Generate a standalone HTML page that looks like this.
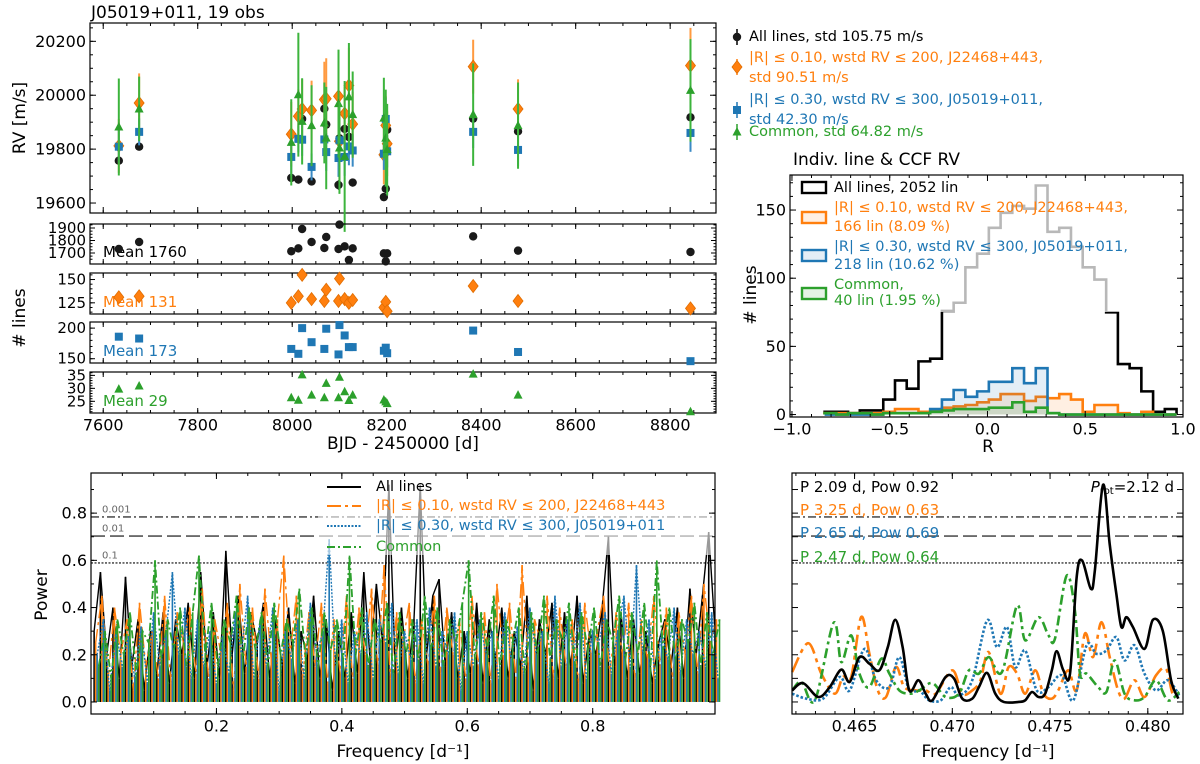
<!DOCTYPE html>
<html><head><meta charset="utf-8"><style>
html,body{margin:0;padding:0;background:#fff;}
svg{display:block;font-family:"DejaVu Sans","Liberation Sans",sans-serif;}
</style></head><body>
<svg id="chart" width="1200" height="764" viewBox="0 0 1200 764" xmlns="http://www.w3.org/2000/svg"></svg>
<script>
// ---------- data ----------
const epochs=[7633,7676,7998,8013,8021,8041,8068,8072,8098,8100,8111,8120,8128,8194,8198,8201,8383,8478,8843];
const rvAll=[19757,19809,19693,19687,19912,19680,19950,19891,19667,19840,19875,19845,19676,19622,19653,19872,19913,19866,19918];
const rvOrange=[19812,19971,19855,19922,19949,19944,19984,19987,19996,19829,19932,20036,19893,19779,19888,19820,20106,19949,20110];
const rvBlue=[19809,19864,19771,19838,19835,19734,19836,19789,19767,19833,19771,19810,19795,19783,19912,19792,19864,19797,19860];
const rvGreen=[19882,19949,19825,20002,19903,19887,19897,19841,19969,19804,19773,19994,19928,19915,19841,19798,19928,19887,20018];
const errAll=[15,12,15,15,15,15,15,15,18,15,15,15,15,15,15,15,15,15,15];
const errOrange=[100,110,120,100,110,110,140,150,130,150,100,140,120,110,110,120,100,110,140];
const errBlue=[60,50,70,50,60,50,60,70,70,60,70,70,60,60,80,60,60,60,70];
const errGreen=[180,120,160,230,160,150,150,190,200,170,280,200,160,150,180,170,190,160,190];
const nAll=[1732,1788,1714,1737,1892,1788,1740,1828,1732,1927,1753,1644,1737,1697,1633,1697,1833,1719,1708];
const nOrange=[131,132,125,132,155,129,127,139,127,151,129,125,128,120,126,116,143,127,119];
const nBlue=[186,183,166,158,200,177,166,199,157,205,188,169,169,163,168,159,196,161,146];
const nGreen=[29.7,30.9,26.4,25.4,35.2,27.4,26.4,31.9,26.4,34.3,28.7,25.3,27.4,25.5,24.8,24.1,35.5,27.4,21];
const histStart=-0.833, histWidth=0.06;
const histAll=[2,2,1,3,3,11,25,19,39,41,76,82,108,118,137,148,153,151,168,134,137,123,108,99,75,37,34,17,2,4];
const histOrange=[1,1,1,1,1,2,4,4,2,3,5,6,7,9,11,15,15,10,13,12,15,11,2,7,7,1,0,2,0,0];
const histBlue=[0,0,0,0,0,1,1,1,1,4,11,18,13,17,24,24,34,23,34,1,0,0,0,0,0,0,0,0,0,0];
const histGreen=[1,0,1,1,0,1,1,1,1,2,3,4,4,4,5,5,9,2,5,1,0,0,0,0,0,0,0,0,0,0];
const freqStart=0.005, freqStep=0.01;
const powAll=[0.30,0.55,0.20,0.40,0.10,0.53,0.15,0.35,0.05,0.30,0.12,0.38,0.08,0.35,0.20,0.42,0.10,0.55,0.15,0.38,0.10,0.64,0.20,0.45,0.12,0.38,0.25,0.42,0.10,0.35,0.15,0.40,0.08,0.30,0.18,0.45,0.10,0.35,0.05,0.30,0.10,0.38,0.12,0.55,0.18,0.50,0.25,0.92,0.15,0.40,0.10,0.35,0.92,0.20,0.45,0.52,0.15,0.38,0.10,0.30,0.12,0.42,0.08,0.35,0.18,0.40,0.10,0.30,0.15,0.45,0.05,0.35,0.20,0.42,0.10,0.38,0.15,0.45,0.08,0.30,0.20,0.40,0.70,0.15,0.38,0.10,0.35,0.12,0.30,0.08,0.25,0.35,0.15,0.40,0.10,0.48,0.20,0.45,0.72,0.30];
const powOrange=[0.25,0.45,0.10,0.40,0.20,0.35,0.05,0.42,0.15,0.30,0.10,0.45,0.08,0.38,0.25,0.40,0.12,0.48,0.10,0.35,0.20,0.42,0.05,0.50,0.15,0.40,0.10,0.48,0.18,0.35,0.62,0.20,0.45,0.10,0.38,0.15,0.42,0.08,0.35,0.12,0.45,0.10,0.40,0.20,0.48,0.15,0.58,0.10,0.38,0.25,0.42,0.08,0.35,0.15,0.45,0.12,0.40,0.20,0.35,0.10,0.45,0.15,0.38,0.08,0.50,0.20,0.42,0.10,0.58,0.15,0.35,0.25,0.45,0.10,0.40,0.15,0.35,0.08,0.42,0.20,0.30,0.45,0.12,0.38,0.20,0.42,0.10,0.35,0.18,0.45,0.15,0.40,0.10,0.38,0.20,0.45,0.12,0.50,0.25,0.35];
const powBlue=[0.20,0.35,0.05,0.30,0.15,0.28,0.10,0.32,0.08,0.38,0.15,0.30,0.55,0.20,0.40,0.10,0.35,0.15,0.30,0.08,0.28,0.12,0.38,0.20,0.45,0.10,0.35,0.15,0.40,0.05,0.30,0.18,0.35,0.10,0.42,0.20,0.30,0.69,0.15,0.35,0.08,0.30,0.20,0.38,0.10,0.35,0.25,0.42,0.12,0.30,0.18,0.35,0.08,0.40,0.15,0.30,0.20,0.38,0.05,0.30,0.15,0.35,0.20,0.30,0.10,0.38,0.18,0.32,0.12,0.40,0.20,0.30,0.08,0.45,0.15,0.35,0.20,0.42,0.10,0.30,0.25,0.38,0.12,0.30,0.45,0.15,0.58,0.20,0.35,0.10,0.30,0.18,0.40,0.12,0.35,0.20,0.30,0.15,0.38,0.10];
const powGreen=[0.15,0.30,0.10,0.35,0.20,0.38,0.12,0.30,0.25,0.60,0.18,0.35,0.22,0.40,0.15,0.38,0.62,0.20,0.42,0.15,0.35,0.25,0.45,0.18,0.40,0.22,0.38,0.15,0.42,0.20,0.35,0.25,0.48,0.18,0.40,0.15,0.38,0.22,0.35,0.18,0.62,0.20,0.40,0.15,0.35,0.25,0.42,0.12,0.38,0.20,0.35,0.18,0.45,0.22,0.40,0.15,0.35,0.25,0.42,0.60,0.18,0.38,0.22,0.45,0.15,0.35,0.25,0.40,0.12,0.38,0.20,0.45,0.18,0.35,0.25,0.42,0.15,0.38,0.22,0.40,0.15,0.35,0.25,0.45,0.18,0.38,0.20,0.42,0.15,0.60,0.22,0.40,0.18,0.35,0.25,0.42,0.15,0.38,0.20,0.35];
const zfAll=[0.46181,0.46237,0.46314,0.46373,0.46432,0.46475,0.46525,0.46576,0.46627,0.46670,0.46708,0.46746,0.46780,0.46827,0.46864,0.46898,0.46966,0.47009,0.47051,0.47102,0.47136,0.47178,0.47220,0.47263,0.47339,0.47373,0.47407,0.47441,0.47475,0.47509,0.47534,0.47568,0.47602,0.47636,0.47664,0.47709,0.47729,0.47771,0.47805,0.47839,0.47865,0.47890,0.47924,0.47983,0.48026,0.48076,0.48119,0.48156];
const zpAll=[0.049,0.080,0.021,0.063,0.137,0.085,0.190,0.162,0.134,0.232,0.348,0.232,0.049,0.092,0.035,0.007,0.106,0.099,0.014,0.014,0.063,0.123,0.035,0.0,0.0,0.007,0.042,0.021,0.035,0.134,0.215,0.134,0.120,0.528,0.599,0.479,0.556,0.92,0.669,0.458,0.317,0.359,0.317,0.225,0.348,0.303,0.092,0.014];
const zfOrange=[0.46181,0.46263,0.46330,0.46398,0.46441,0.46483,0.46534,0.46576,0.46619,0.46661,0.46712,0.46754,0.46814,0.46864,0.46915,0.47000,0.47051,0.47102,0.47144,0.47186,0.47246,0.47288,0.47331,0.47373,0.47424,0.47466,0.47509,0.47542,0.47593,0.47636,0.47678,0.47720,0.47763,0.47805,0.47848,0.47881,0.47932,0.47983,0.48042,0.48093,0.48127,0.48161];
const zpOrange=[0.127,0.249,0.120,0.035,0.106,0.106,0.360,0.204,0.049,0.021,0.148,0.063,0.049,0.049,0.035,0.134,0.035,0.049,0.092,0.211,0.035,0.148,0.120,0.035,0.134,0.035,0.014,0.049,0.134,0.049,0.289,0.190,0.338,0.190,0.049,0.014,0.092,0.021,0.113,0.141,0.035,0.035];
const zfBlue=[0.46181,0.46254,0.46339,0.46424,0.46475,0.46551,0.46610,0.46678,0.46729,0.46780,0.46831,0.46881,0.46941,0.46992,0.47034,0.47102,0.47178,0.47229,0.47280,0.47322,0.47373,0.47432,0.47492,0.47559,0.47619,0.47687,0.47737,0.47788,0.47839,0.47881,0.47932,0.47983,0.48042,0.48102,0.48161];
const zpBlue=[0.035,0.014,0.014,0.106,0.049,0.225,0.092,0.063,0.190,0.049,0.049,0.007,0.007,0.063,0.028,0.092,0.345,0.232,0.317,0.148,0.218,0.049,0.063,0.113,0.007,0.240,0.204,0.218,0.275,0.176,0.240,0.120,0.049,0.092,0.028];
const zfGreen=[0.46181,0.46229,0.46297,0.46393,0.46432,0.46483,0.46525,0.46576,0.46636,0.46678,0.46729,0.46788,0.46831,0.46898,0.46966,0.47034,0.47085,0.47136,0.47186,0.47254,0.47331,0.47373,0.47441,0.47492,0.47525,0.47585,0.47627,0.47653,0.47687,0.47746,0.47788,0.47831,0.47881,0.47932,0.47983,0.48042,0.48102,0.48161];
const zpGreen=[0.049,0.085,0.007,0.335,0.169,0.282,0.120,0.063,0.183,0.120,0.049,0.035,0.049,0.080,0.021,0.035,0.134,0.120,0.190,0.127,0.408,0.261,0.359,0.282,0.268,0.535,0.387,0.120,0.120,0.063,0.042,0.176,0.035,0.007,0.021,0.092,0.007,0.042];
const fapLevels=[0.784,0.703,0.589];
const fapLabels=["0.001","0.01","0.1"];

// ---------- helpers ----------
const NS="http://www.w3.org/2000/svg";
const svg=document.getElementById('chart');
const C={k:'#1a1a1a',o:'#ff7f0e',b:'#1f77b4',g:'#2ca02c'};
function mk(tag,attrs,parent){const e=document.createElementNS(NS,tag);for(const k in attrs)e.setAttribute(k,attrs[k]);(parent||svg).appendChild(e);return e;}
function txt(x,y,s,size,fill,anchor,extra){const e=mk('text',Object.assign({x:x,y:y,'font-size':size,fill:fill||'#000','text-anchor':anchor||'start','dominant-baseline':'central'},extra||{}));e.textContent=s;return e;}
function lin(d0,d1,r0,r1){return v=>r0+(v-d0)*(r1-r0)/(d1-d0);}
function frame(x0,y0,x1,y1,name){const r=mk('rect',{x:x0,y:y0,width:x1-x0,height:y1-y0,fill:'none',stroke:'#000','stroke-width':1.2});

return r;}
function xticks(sx,y0,y1,vals,len,lab,fmt,size){vals.forEach(v=>{const x=sx(v);
const t1=mk('line',{x1:x,x2:x,y1:y1,y2:y1-len,stroke:'#000','stroke-width':1});


mk('line',{x1:x,x2:x,y1:y0,y2:y0+len,stroke:'#000','stroke-width':1});
if(lab){const t=txt(x,y1+12,fmt(v),size||16,'#000','middle');

}});}
function yticks(sy,x0,x1,vals,len,lab,fmt,size){vals.forEach(v=>{const y=sy(v);
const t1=mk('line',{x1:x0,x2:x0+len,y1:y,y2:y,stroke:'#000','stroke-width':1});


mk('line',{x1:x1,x2:x1-len,y1:y,y2:y,stroke:'#000','stroke-width':1});
if(lab){const t=txt(x0-4,y,fmt(v),size||16,'#000','end');

}});}
function range(a,b,s){const r=[];for(let v=a;v<=b+1e-9;v+=s)r.push(+v.toFixed(6));return r;}
function marker(type,x,y,s,parent){let e;
if(type==='k')e=mk('circle',{cx:x,cy:y,r:4.2*s,fill:C.k},parent);
else if(type==='o')e=mk('polygon',{points:`${x},${y-6.5*s} ${x+5*s},${y} ${x},${y+6.5*s} ${x-5*s},${y}`,fill:C.o,stroke:'#e06d00','stroke-width':0.8},parent);
else if(type==='b')e=mk('rect',{x:x-4*s,y:y-4*s,width:8*s,height:8*s,fill:C.b},parent);
else e=mk('polygon',{points:`${x},${y-5*s} ${x+4.5*s},${y+3.5*s} ${x-4.5*s},${y+3.5*s}`,fill:C.g},parent);
return e;}
function smooth(pts){let d=`M${pts[0][0]},${pts[0][1]}`;for(let i=0;i<pts.length-1;i++){const p0=pts[Math.max(0,i-1)],p1=pts[i],p2=pts[i+1],p3=pts[Math.min(pts.length-1,i+2)];
const c1=[p1[0]+(p2[0]-p0[0])/6,p1[1]+(p2[1]-p0[1])/6],c2=[p2[0]-(p3[0]-p1[0])/6,p2[1]-(p3[1]-p1[1])/6];
d+=` C${c1[0]},${c1[1]} ${c2[0]},${c2[1]} ${p2[0]},${p2[1]}`;}return d;}

// ---------- top RV panel ----------
const X0=90,X1=716;
const sxT=lin(7572,8897,X0,X1);
const syRV=lin(19563,20268,213,23);
const ttl=txt(91,13,'J05019+011, 19 obs',17,'#000','start');


frame(X0,23,X1,213,'rv-panel-frame');
xticks(sxT,23,213,range(7600,8800,200),6,false);
xticks(sxT,23,213,range(7600,8850,50),3,false);
yticks(syRV,X0,X1,range(19600,20200,200),6,true,v=>v,16);
yticks(syRV,X0,X1,range(19600,20250,50),3,false);
const rvl=txt(20,118,'RV [m/s]',17,'#000','middle',{transform:'rotate(-90 20 118)'});


const rvSeries=[['k',rvAll,errAll,'#222',1.5],['o',rvOrange,errOrange,'#ff9a40',2],['b',rvBlue,errBlue,'#3a8ac4',2],['g',rvGreen,errGreen,'#3cb43c',2]];
rvSeries.forEach(([t,vals,errs,col,w])=>{const g=mk('g',{});


vals.forEach((v,i)=>{const x=sxT(epochs[i]);
const eb=mk('line',{x1:x,x2:x,y1:syRV(v-errs[i]),y2:syRV(v+errs[i]),stroke:col,'stroke-width':w},g);


const m=marker(t,x,syRV(v),1,g);

});});

// ---------- number-of-lines panels ----------
const cntPanels=[
 {t:'k',vals:nAll,y0:224,y1:264,d0:1612,d1:1932,ticks:[1700,1800,1900],minor:range(1650,1925,25),mean:'Mean 1760',col:'#000'},
 {t:'o',vals:nOrange,y0:273,y1:314,d0:113,d1:157,ticks:[125,150],minor:range(115,155,5),mean:'Mean 131',col:C.o},
 {t:'b',vals:nBlue,y0:322,y1:363,d0:143,d1:210,ticks:[150,200],minor:range(150,205,10),mean:'Mean 173',col:C.b},
 {t:'g',vals:nGreen,y0:372,y1:413,d0:20.5,d1:36.3,ticks:[25,30,35],minor:range(21,36,1),mean:'Mean 29',col:C.g}];
cntPanels.forEach(p=>{const sy=lin(p.d0,p.d1,p.y1,p.y0);
frame(X0,p.y0,X1,p.y1,'count-panel-frame-'+p.t);
xticks(sxT,p.y0,p.y1,range(7600,8800,200),5,false);
xticks(sxT,p.y0,p.y1,range(7600,8850,50),3,false);
yticks(sy,X0,X1,p.ticks,5,true,v=>v,15);
yticks(sy,X0,X1,p.minor,2.5,false);
const mt=txt(103,p.y1-12,p.mean,15,p.col,'start');


p.vals.forEach((v,i)=>{const m=marker(p.t,sxT(epochs[i]),sy(v),1);

});});
xticks(sxT,372,413,range(7600,8800,200),0,true,v=>v,16);
const nl=txt(20,318,'# lines',17,'#000','middle',{transform:'rotate(-90 20 318)'});


const bl=txt(403,444,'BJD - 2450000 [d]',17,'#000','middle');



// ---------- RV legend ----------
const rvLeg=[['k',37,['All lines, std 105.75 m/s'],[37],'#000'],['o',67,['|R| \u2264 0.10, wstd RV \u2264 200, J22468+443,','std 90.51 m/s'],[58,78],C.o],['b',110,['|R| \u2264 0.30, wstd RV \u2264 300, J05019+011,','std 42.30 m/s'],[100,120],C.b],['g',132,['Common, std 64.82 m/s'],[132],C.g]];
rvLeg.forEach(([t,my,lines,ys,col])=>{const eb=mk('line',{x1:737,x2:737,y1:my-8,y2:my+8,stroke:col,'stroke-width':1.5});


const m=marker(t,737,my,1);


lines.forEach((s,i)=>{const tt=txt(749,ys[i],s,14.5,col,'start');

});});

// ---------- histogram ----------
const HX0=790,HX1=1183,HY0=175,HY1=417;
const sxH=lin(-1.01,1.0,HX0,HX1), syH=lin(-1.8,175.7,HY1,HY0);
const ht=txt(793,160,'Indiv. line & CCF RV',17,'#000','start');


function stepPath(counts){let d=`M${sxH(histStart)},${syH(0)}`;counts.forEach((c,i)=>{const a=histStart+i*histWidth;d+=` L${sxH(a)},${syH(c)} L${sxH(a+histWidth)},${syH(c)}`;});d+=` L${sxH(histStart+counts.length*histWidth)},${syH(0)}`;return d;}
[[histAll,'#000','none'],[histOrange,C.o,'rgba(255,127,14,0.12)'],[histBlue,C.b,'rgba(31,119,180,0.12)'],[histGreen,C.g,'rgba(44,160,44,0.12)']].forEach(([h,col,fill],k)=>{
const p=mk('path',{d:stepPath(h),fill:fill,stroke:col,'stroke-width':2.6,'stroke-linejoin':'miter'});

});
const hlb=mk('rect',{x:HX0+2,y:HY0+1,width:385,height:136,fill:'#fff','fill-opacity':0.72,stroke:'none'});


frame(HX0,HY0,HX1,HY1,'histogram-frame');
xticks(sxH,HY0,HY1,range(-1,1,0.5),6,true,v=>(v<0?'\u2212':'')+Math.abs(v).toFixed(1),16);
xticks(sxH,HY0,HY1,range(-1,1,0.1),3,false);
yticks(syH,HX0,HX1,[0,50,100,150],6,true,v=>v,16);
yticks(syH,HX0,HX1,range(0,170,10),3,false);
const hxl=txt(988,447,'R',17,'#000','middle');


const hyl=txt(751,295,'# lines',17,'#000','middle',{transform:'rotate(-90 751 295)'});


const hleg=[[187,'#000','none',['All lines, 2052 lin'],[188]],[217,C.o,'rgba(255,127,14,0.12)',['|R| \u2264 0.10, wstd RV \u2264 200, J22468+443,','166 lin (8.09 %)'],[208,227]],[255,C.b,'rgba(31,119,180,0.12)',['|R| \u2264 0.30, wstd RV \u2264 300, J05019+011,','218 lin (10.62 %)'],[247,265]],[293,C.g,'rgba(44,160,44,0.12)',['Common,','40 lin (1.95 %)'],[285,301]]];
hleg.forEach(([y,col,fill,lines,ys])=>{const b=mk('rect',{x:802,y:y-5,width:24,height:11,fill:fill,stroke:col,'stroke-width':2.4});


lines.forEach((s,i)=>{const t=txt(834,ys[i],s,14.5,col==='#000'?'#000':col,'start');

});});

// ---------- periodograms ----------
const PY0=473,PY1=714;
const syP=lin(-0.051,0.970,PY1,PY0);
const sxP=lin(0,0.995,91,715);
const sxZ=lin(0.4618,0.4818,792,1183);
const styles={k:{c:'#000',d:'none'},o:{c:C.o,d:'14,4,3,4'},b:{c:C.b,d:'2,1.5'},g:{c:C.g,d:'8,3,2,3'}};
function fapLines(x0,x1,name){const dashes=['8,3,2,3','14,5','2,1.5'];fapLevels.forEach((l,i)=>{const ln=mk('line',{x1:x0,x2:x1,y1:syP(l),y2:syP(l),stroke:'#555','stroke-width':1.6,'stroke-dasharray':dashes[i]});

});}
// left
fapLines(91,715,'periodogram');
fapLabels.forEach((s,i)=>{const t=txt(102,syP(fapLevels[i])-7,s,10,'#666','start');

});
[['k',powAll,1.4,0],['o',powOrange,1.4,1.5],['b',powBlue,1.4,3],['g',powGreen,1.8,4.5]].forEach(([t,vals,w,off])=>{
const g=mk('g',{stroke:styles[t].c,'stroke-width':1.6});


vals.forEach((v,i)=>{const x=sxP(freqStart+i*freqStep)+off;
const st=mk('line',{x1:x,x2:x,y1:syP(0),y2:syP(v)},g);

});
const pts=vals.map((v,i)=>(sxP(freqStart+i*freqStep)+off)+','+syP(v)).join(' ');
const pl=mk('polyline',{points:pts,fill:'none',stroke:styles[t].c,'stroke-width':w,'stroke-dasharray':styles[t].d});

});
const plb=mk('rect',{x:318,y:475,width:396,height:80,fill:'#fff','fill-opacity':0.6});


[['k','All lines',487],['o','|R| \u2264 0.10, wstd RV \u2264 200, J22468+443',506],['b','|R| \u2264 0.30, wstd RV \u2264 300, J05019+011',526],['g','Common',547]].forEach(([t,s,y])=>{
const l=mk('line',{x1:327,x2:361,y1:y,y2:y,stroke:styles[t].c,'stroke-width':2,'stroke-dasharray':styles[t].d});


const tt=txt(376,y,s,14.5,t==='k'?'#000':styles[t].c,'start');

});
frame(91,PY0,715,PY1,'periodogram-frame');
xticks(sxP,PY0,PY1,[0.2,0.4,0.6,0.8],6,true,v=>v.toFixed(1),16);
xticks(sxP,PY0,PY1,range(0.05,0.95,0.05),3,false);
yticks(syP,91,715,[0,0.2,0.4,0.6,0.8],6,true,v=>v.toFixed(1),16);
yticks(syP,91,715,range(0,0.9,0.1),3,false);
const pyl=txt(42,595,'Power',17,'#000','middle',{transform:'rotate(-90 42 595)'});


const pxl=txt(403,752,'Frequency [d\u207B\u00B9]',17,'#000','middle');


// right zoom
fapLines(792,1183,'zoom');
[['o',zfOrange,zpOrange],['b',zfBlue,zpBlue],['g',zfGreen,zpGreen],['k',zfAll,zpAll]].forEach(([t,fs,ps])=>{
const d=smooth(fs.map((f,i)=>[sxZ(f),syP(ps[i])]));
const pa=mk('path',{d:d,fill:'none',stroke:styles[t].c,'stroke-width':2.6,'stroke-dasharray':t==='o'?'16,5,4,5':(t==='b'?'2.5,2':(t==='g'?'10,4,3,4':'none'))});

});
frame(792,PY0,1183,PY1,'zoom-periodogram-frame');
xticks(sxZ,PY0,PY1,[0.465,0.470,0.475,0.480],6,true,v=>v.toFixed(3),16);
xticks(sxZ,PY0,PY1,range(0.462,0.481,0.001),3,false);
yticks(syP,792,1183,range(0,0.9,0.1),6,false);
[['P 2.09 d, Pow 0.92','#000',487],['P 3.25 d, Pow 0.63',C.o,510],['P 2.65 d, Pow 0.69',C.b,533],['P 2.47 d, Pow 0.64',C.g,557]].forEach(([s,c,y])=>{
const t=txt(800,y,s,15,c,'start');

});
const pr=mk('text',{x:1174,y:487,'font-size':15,'text-anchor':'end','dominant-baseline':'central'});
pr.innerHTML='<tspan font-style="italic">P</tspan><tspan font-size="10" dy="4">rot</tspan><tspan dy="-4">=2.12 d</tspan>';


const zxl=txt(988,752,'Frequency [d\u207B\u00B9]',17,'#000','middle');


</script>
</body></html>
